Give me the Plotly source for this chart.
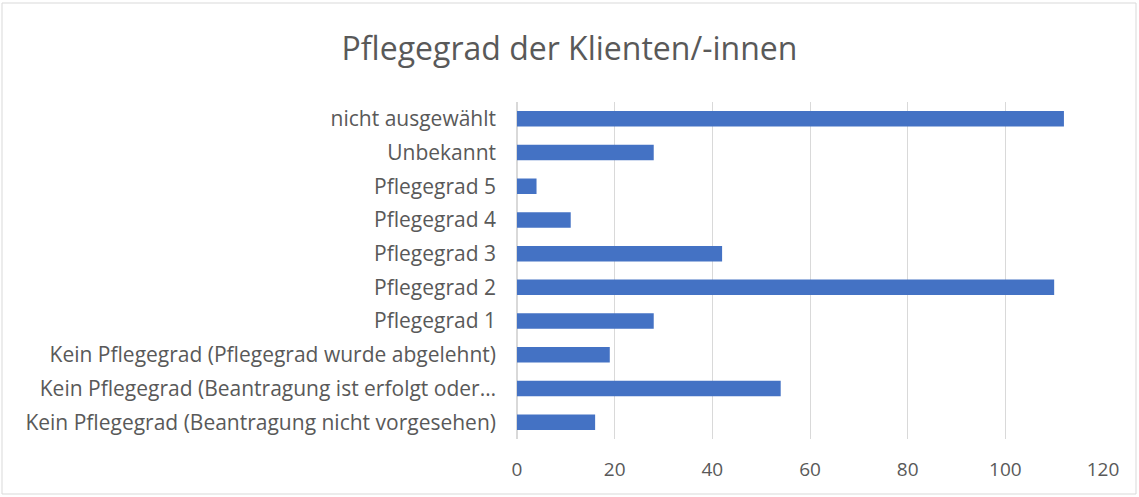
import plotly.graph_objects as go

categories = [
    "Kein Pflegegrad (Beantragung nicht vorgesehen)",
    "Kein Pflegegrad (Beantragung ist erfolgt oder…",
    "Kein Pflegegrad (Pflegegrad wurde abgelehnt)",
    "Pflegegrad 1",
    "Pflegegrad 2",
    "Pflegegrad 3",
    "Pflegegrad 4",
    "Pflegegrad 5",
    "Unbekannt",
    "nicht ausgewählt",
]
values = [16, 54, 19, 28, 110, 42, 11, 4, 28, 112]
x_ticks = [0, 20, 40, 60, 80, 100, 120]

W, H = 1139, 497
L, R, T, B = 517, 36, 102, 58
pw, ph = W - L - R, H - T - B

fig = go.Figure(go.Bar(
    y=categories, x=values, orientation="h",
    marker=dict(color="#4472C4", line=dict(width=0)),
))

def px_x(p):
    return (p - L) / pw

def px_y(p):
    return (H - B - p) / ph

fig.add_shape(type="rect", xref="paper", yref="paper",
              x0=px_x(2), x1=px_x(1136), y0=px_y(494), y1=px_y(3),
              line=dict(color="#D9D9D9", width=1), fillcolor="rgba(0,0,0,0)", layer="below")

fig.update_layout(
    width=W, height=H,
    margin=dict(l=L, r=R, t=T, b=B),
    paper_bgcolor="white", plot_bgcolor="white",
    bargap=0.54,
    showlegend=False,
    title=dict(text="Pflegegrad der Klienten/-innen", x=0.5, xanchor="center",
               y=1 - 49 / H, yanchor="middle", xref="container",
               font=dict(family="Open Sans", size=32, color="#595959")),
    font=dict(family="Open Sans", color="#595959"),
)
fig.update_xaxes(range=[0, 120], tickvals=x_ticks, showgrid=True, gridcolor="#D9D9D9",
                 gridwidth=1, zeroline=True, zerolinecolor="#D9D9D9", showline=False,
                 tickfont=dict(size=19, color="#595959"), ticks="", ticklabelstandoff=17)
fig.update_yaxes(showgrid=False, showline=False, ticks="",
                 tickfont=dict(size=21, color="#595959"), ticklabelstandoff=20)

fig.write_html("out.html", config={"displayModeBar": False},
               post_script="document.body.style.margin='0';")
